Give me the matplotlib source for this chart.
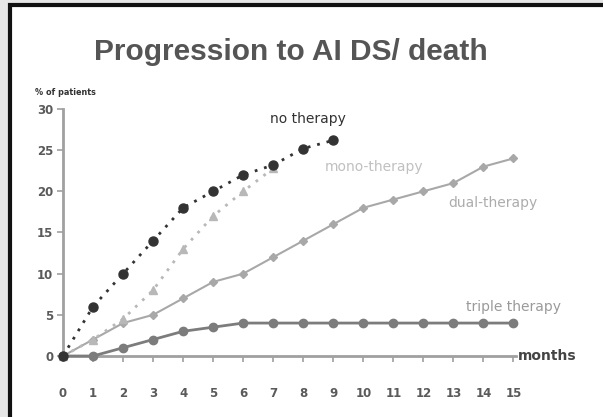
import matplotlib
matplotlib.use("Agg")
from matplotlib import pyplot as plt
from matplotlib.patches import Rectangle

# months since start of therapy
months = list(range(16))
tick_labels = [str(m) for m in months]

# % of patients progressing to AIDS / death
no_therapy = [0, 6, 10, 14, 18, 20, 22, 23.2, 25.2, 26.2]
mono_therapy = [0, 2, 4.5, 8, 13, 17, 20, 22.8]
dual_therapy = [0, 2, 4, 5, 7, 9, 10, 12, 14, 16, 18, 19, 20, 21, 23, 24]
triple_therapy = [0, 0, 1, 2, 3, 3.5, 4, 4, 4, 4, 4, 4, 4, 4, 4, 4]

y_ticks = [0, 5, 10, 15, 20, 25, 30]

fig = plt.figure(figsize=(6.03, 4.17), dpi=100)
fig.patch.set_facecolor("#e6e6e6")

# white slide panel with a black frame on the top and left
panel = Rectangle((10 / 603, -0.05), 1.1, (417 - 5) / 417 + 0.05,
                  transform=fig.transFigure, facecolor="white",
                  edgecolor="#111111", linewidth=3, zorder=-1)
fig.patches.append(panel)

fig.text(0.483, 0.875, "Progression to AI DS/ death", ha="center", va="center",
         fontsize=21.5, fontweight="bold", color="#555555", family="Liberation Sans",
         zorder=2)
fig.text(0.058, 0.779, "% of patients", ha="left", va="center",
         fontsize=6.5, fontweight="bold", color="#333333",
         family="Liberation Sans Narrow", stretch="condensed", zorder=2)

ax = fig.add_axes([0.1045, 0.1463, 0.752, 0.5923])
ax.set_facecolor("none")

ax.plot(months[:len(dual_therapy)], dual_therapy, color="#a8a8a8", linewidth=1.5,
        marker="D", markersize=4, clip_on=False, zorder=3)
ax.plot(months[:len(triple_therapy)], triple_therapy, color="#7c7c7c", linewidth=2,
        marker="o", markersize=6, clip_on=False, zorder=4)
ax.plot(months[:len(mono_therapy)], mono_therapy, color="#b8b8b8", linewidth=2,
        linestyle=(0, (1, 2.5)), marker="^", markersize=6, clip_on=False, zorder=5)
ax.plot(months[:len(no_therapy)], no_therapy, color="#333333", linewidth=2,
        linestyle=(0, (1, 2.5)), marker="o", markersize=6.5, clip_on=False, zorder=6)

label_font = dict(fontsize=10, family="DejaVu Sans", ha="left", va="center")
ax.text(6.88, 28.8, "no therapy", color="#333333", **label_font)
ax.text(8.72, 22.9, "mono-therapy", color="#c0c0c0", **label_font)
ax.text(12.82, 18.6, "dual-therapy", color="#acacac", **label_font)
ax.text(13.42, 5.9, "triple therapy", color="#9a9a9a", **label_font)
ax.text(15.15, 0, "months", color="#444444", fontsize=10, fontweight="bold",
        family="DejaVu Sans", ha="left", va="center")

ax.set_xlim(0, 15.1)
ax.set_ylim(0, 30)
ax.set_xticks(months)
ax.set_xticklabels(tick_labels)
ax.set_yticks(y_ticks)

for side in ["top", "right"]:
    ax.spines[side].set_visible(False)
for side in ["left", "bottom"]:
    ax.spines[side].set_color("#a0a0a0")
    ax.spines[side].set_linewidth(2)

ax.tick_params(axis="both", direction="out", length=4, width=1.2, color="#a0a0a0",
               labelsize=8.5, labelcolor="#5a5a5a")
ax.tick_params(axis="x", pad=18)
ax.tick_params(axis="y", pad=3)
for lab in ax.get_xticklabels() + ax.get_yticklabels():
    lab.set_fontweight("bold")

plt.savefig("out.png", dpi=100)
